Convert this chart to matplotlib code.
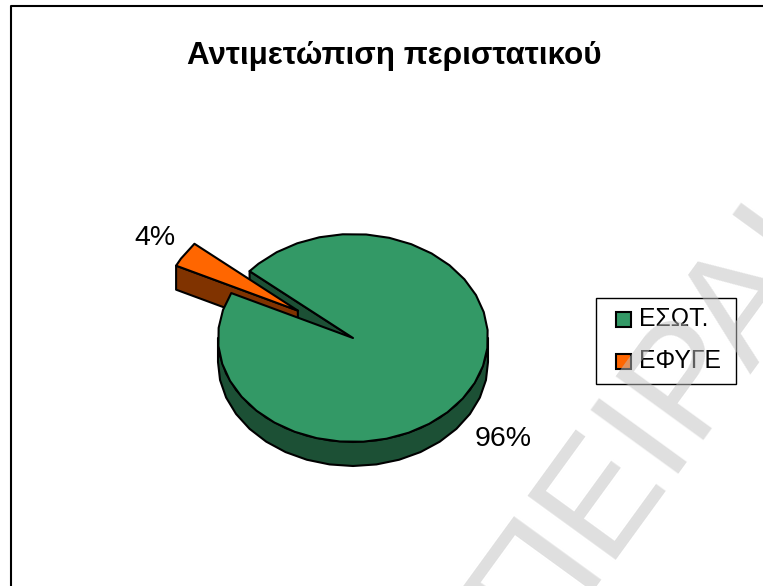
"""Exploded 3D-style pie of how incidents were handled, with a diagonal watermark."""
import numpy as np
import matplotlib
matplotlib.use("Agg")
import matplotlib.pyplot as plt
from matplotlib.patches import Polygon, Rectangle

plt.rcParams["font.family"] = ["Liberation Sans", "DejaVu Sans"]

title = "Αντιμετώπιση περιστατικού"
categories = ["ΕΣΩΤ.", "ΕΦΥΓΕ"]
shares = [96, 4]
top_colors = ["#339966", "#FF6600"]
side_colors = ["#1C5035", "#803300"]
watermark = "ΠΕΙΡΑΙΑ"

# pie geometry, in pixels
CX, CY = 353, 338
RX, RY = 135, 104
DEPTH = 24
SLICE_START = 140.0
EXPLODE = 0.486
STEP = 10.0
LW = 1.5


def arc(start, stop, cx=CX, cy=CY):
    """Faceted elliptical arc between two pie angles (degrees)."""
    angles = np.append(np.arange(start, stop, STEP), stop)
    rad = np.radians(angles)
    return np.column_stack([cx + RX * np.cos(rad), cy - RY * np.sin(rad)])


def face(ax, pts, color, z):
    ax.add_patch(Polygon(pts, closed=True, facecolor=color, edgecolor="black",
                         linewidth=LW, joinstyle="round", zorder=z))


fig = plt.figure(figsize=(7.63, 5.86), dpi=100)
ax = fig.add_axes([0, 0, 1, 1])
ax.set_xlim(0, 763)
ax.set_ylim(586, 0)
ax.axis("off")

# chart frame runs off the right and bottom of the figure
ax.plot([11, 11, 770], [600, 6, 6], color="black", linewidth=1.5, zorder=1)

sweep = shares[1] * 3.6
slice_stop = SLICE_START + sweep
mid = np.radians(SLICE_START + sweep / 2)
sx = CX + EXPLODE * RX * np.cos(mid)
sy = CY - EXPLODE * RY * np.sin(mid)
centre = np.array([[CX, CY]])
tip = np.array([[sx, sy]])
drop = np.array([0, DEPTH])

# big slice: outer wall, then the wall of the cut facing the viewer
lower = arc(180, 360)
face(ax, np.vstack([lower, (lower + drop)[::-1]]), side_colors[0], 2)
edge = arc(SLICE_START, SLICE_START + 0.01)[:1]
face(ax, np.vstack([edge, centre, centre + drop, edge + drop]), side_colors[0], 3)

# exploded slice
small_top = arc(SLICE_START, slice_stop, sx, sy)
outer = small_top[-1:]
face(ax, np.vstack([outer, tip, tip + drop, outer + drop]), side_colors[1], 4)
face(ax, np.vstack([tip, small_top]), top_colors[1], 5)

# big slice top goes last, it hides the foot of the exploded slice
big_top = arc(slice_stop, SLICE_START + 360)
face(ax, np.vstack([centre, big_top]), top_colors[0], 6)

ax.text(394, 56, title, fontsize=22.6, fontweight="bold", ha="center",
        va="center", color="black", zorder=7)
ax.text(155, 238, f"{shares[1]}%", fontsize=20.5, ha="center", va="center", zorder=7)
ax.text(503, 439, f"{shares[0]}%", fontsize=20.5, ha="center", va="center", zorder=7)

# legend box
ax.add_patch(Rectangle((596, 298), 140, 86, facecolor="white", edgecolor="black",
                       linewidth=1.0, zorder=7))
for i, (name, color) in enumerate(zip(categories, top_colors)):
    y = 319 + i * 42
    ax.add_patch(Rectangle((616, y - 7.5), 15, 15, facecolor=color, edgecolor="black",
                           linewidth=1.5, zorder=8))
    ax.text(639, y, name, fontsize=17.8, ha="left", va="center", zorder=8)

ax.text(537, 651, watermark, fontsize=113, rotation=54, rotation_mode="anchor",
        ha="left", va="baseline", color="#C0C0C0", alpha=0.5, zorder=10)

fig.savefig("out.png", dpi=100)
